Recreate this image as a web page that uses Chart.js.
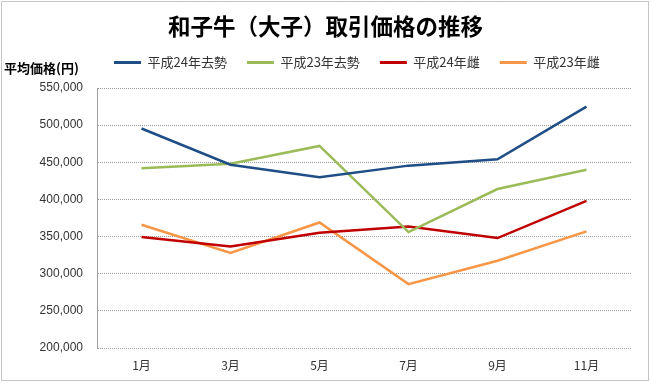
<!DOCTYPE html>
<html>
<head>
<meta charset="utf-8">
<script src="https://cdn.jsdelivr.net/npm/chart.js@4"></script>
<style>
  html, body { margin:0; padding:0; background:#fff; }
  #wrap { width:651px; height:383px; position:relative; }
</style>
</head>
<body>
<div id="wrap"><canvas id="ch"></canvas></div>
<script>
// ---- datos
const meses = ['1月','3月','5月','7月','9月','11月'];
const h24Kyosei = [495500, 446700, 430000, 445500, 454000, 525000];
const h23Kyosei = [442000, 448000, 472000, 356000, 414000, 440000];
const h24Mesu   = [349500, 336500, 355000, 363500, 348000, 398000];
const h23Mesu   = [366000, 328000, 369000, 286000, 317500, 357000];
const yTicks = [200000, 250000, 300000, 350000, 400000, 450000, 500000, 550000];

const FONT = '"Liberation Sans", "Noto Sans CJK JP", sans-serif';
const CJK  = '"Noto Sans CJK JP", sans-serif';

const serie = (label, data, color) => ({
  label, data,
  borderColor: color, backgroundColor: color,
  borderWidth: 2.5, pointRadius: 0, tension: 0
});

// marco punteado + título del eje y + legend/título a la posición del original
const extras = {
  id: 'extras',
  afterLayout(chart){
    const lg = chart.legend;
    if (lg){
      const d = 114 - lg.options.labels.padding - lg.left;
      lg.left += d; lg.right += d;
      lg.top -= 9; lg.bottom -= 9;
    }
    const tt = chart.titleBlock;
    if (tt){ tt.left += 10; tt.right += 10; }
  },
  afterDraw(chart){
    const ctx = chart.ctx;
    ctx.save();
    ctx.strokeStyle = '#8c8c8c'; ctx.lineWidth = 1; ctx.setLineDash([1,1]);
    ctx.strokeRect(1.5, 1.5, 647, 379);
    ctx.setLineDash([]);
    ctx.fillStyle = '#000';
    ctx.font = 'bold 13px ' + CJK;
    ctx.textBaseline = 'middle';
    ctx.fillText('平均価格(円)', 4, 68);
    ctx.restore();
  }
};

new Chart(document.getElementById('ch'), {
  type: 'line',
  data: {
    labels: meses,
    datasets: [
      serie('平成24年去勢', h24Kyosei, '#1f4e87'),
      serie('平成23年去勢', h23Kyosei, '#9bbb59'),
      serie('平成24年雌',   h24Mesu,   '#c00000'),
      serie('平成23年雌',   h23Mesu,   '#f79646')
    ]
  },
  options: {
    responsive: true, maintainAspectRatio: false, animation: false,
    layout: { padding: { left: 0, right: 20, top: 0, bottom: 0 } },
    plugins: {
      title: {
        display: true, text: '和子牛（大子）取引価格の推移', color: '#000',
        font: { family: CJK, size: 22.5, weight: 'bold' },
        padding: { top: 13, bottom: 5 }
      },
      legend: {
        display: true, align: 'start',
        labels: {
          color: '#333', boxWidth: 27, boxHeight: 3, padding: 20,
          font: { family: CJK, size: 13 },
          generateLabels: ch => Chart.defaults.plugins.legend.labels.generateLabels(ch)
            .map(l => ({ ...l, lineWidth: 0 }))
        }
      },
      tooltip: { enabled: false }
    },
    scales: {
      x: {
        offset: true,
        grid: { display: false },
        border: { display: false },
        afterFit: s => { s.height = 35; },
        ticks: { color: '#333', font: { family: CJK, size: 12 }, padding: 2 }
      },
      y: {
        min: 200000, max: 550000,
        afterFit: s => { s.width = 97; },
        afterBuildTicks: s => { s.ticks = yTicks.map(v => ({ value: v })); },
        grid: { color: '#9a9a9a', lineWidth: 1, drawTicks: false },
        border: { display: true, color: '#a0a0a0', dash: [1,1] },
        ticks: {
          color: '#333', font: { family: FONT, size: 12 }, padding: 14,
          callback: v => v.toLocaleString('en-US')
        }
      }
    }
  },
  plugins: [extras]
});
</script>
</body>
</html>
